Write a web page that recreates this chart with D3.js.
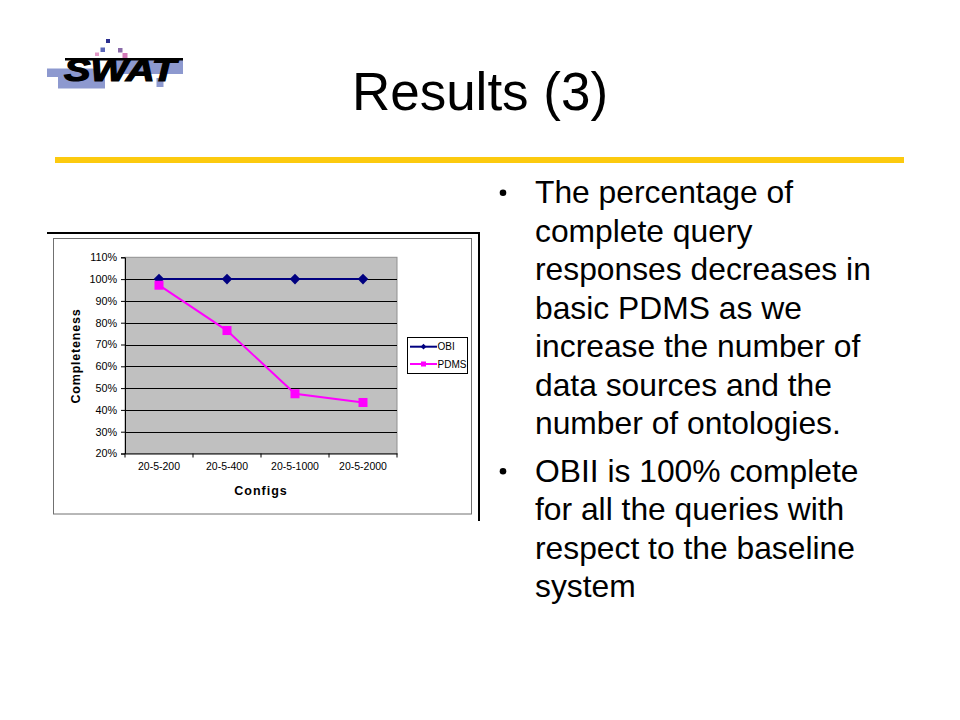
<!DOCTYPE html>
<html>
<head>
<meta charset="utf-8">
<script src="https://cdn.jsdelivr.net/npm/d3@7/dist/d3.min.js"></script>
<style>
  html, body { margin: 0; padding: 0; background: #fff; }
  svg { display: block; }
  text { font-family: "Liberation Sans", Arial, sans-serif; }
</style>
</head>
<body>
<svg id="slide" width="960" height="720"></svg>
<script>
// ---- data ----
const categories = ["20-5-200", "20-5-400", "20-5-1000", "20-5-2000"];
const obiValues  = [1.00, 1.00, 1.00, 1.00];
const pdmsValues = [0.972, 0.764, 0.474, 0.434];
const yTicks     = [0.2, 0.3, 0.4, 0.5, 0.6, 0.7, 0.8, 0.9, 1.0, 1.1];
const seriesNames = ["OBI", "PDMS"];
const titleText = "Results (3)";
const bullets = [
  ["The percentage of", "complete query", "responses decreases in", "basic PDMS as we",
   "increase the number of", "data sources and the", "number of ontologies."],
  ["OBII is 100% complete", "for all the queries with", "respect to the baseline", "system"]
];

const svg = d3.select("#slide");

// ---- logo ----
const logo = svg.append("g");
const logoRects = [
  [47, 68.5, 48, 8.5, "#8d99cf"], [58, 76.5, 47, 12, "#8d99cf"],
  [116, 59, 67, 15, "#8d99cf"], [156.5, 78, 7, 9, "#8d99cf"],
  [106, 39, 4, 4, "#2b2f8f"], [100.5, 47.5, 4.5, 4.5, "#5a66b8"],
  [95, 52.5, 4, 3.5, "#e49ac8"], [118, 48, 4.5, 4.5, "#8a6aa8"],
  [122.5, 53, 5, 5, "#d47ab8"]
];
logo.selectAll("rect.l").data(logoRects).join("rect")
  .attr("x", d => d[0]).attr("y", d => d[1]).attr("width", d => d[2]).attr("height", d => d[3])
  .attr("fill", d => d[4]);
logo.append("rect").attr("x", 65).attr("y", 58).attr("width", 118).attr("height", 2.5).attr("fill", "#000");
logo.append("text").attr("x", 64).attr("y", 80.5)
  .attr("font-size", 31).attr("font-weight", 900).attr("font-style", "italic")
  .attr("textLength", 112).attr("lengthAdjust", "spacingAndGlyphs")
  .attr("fill", "#000").attr("stroke", "#000").attr("stroke-width", 1.2).text("SWAT");

// ---- title ----
svg.append("text").attr("x", 480).attr("y", 110).attr("text-anchor", "middle")
  .attr("font-size", 53).attr("fill", "#000").text(titleText);

svg.append("rect").attr("x", 55).attr("y", 157).attr("width", 849).attr("height", 6).attr("fill", "#fcca0f");

// ---- bullets ----
const lineH = 38.5;
let baseY = 203.3;
bullets.forEach((para, pi) => {
  svg.append("circle").attr("cx", 503).attr("cy", baseY - 10.5).attr("r", 3.3).attr("fill", "#000");
  para.forEach((ln, li) => {
    svg.append("text").attr("x", 535).attr("y", baseY + li * lineH)
      .attr("font-size", 31.8).attr("fill", "#000").text(ln);
  });
  baseY += (para.length - 1) * lineH + 47.4;
});

// ---- chart frame ----
svg.append("rect").attr("x", 53.5).attr("y", 238.5).attr("width", 418).attr("height", 275.5)
  .attr("fill", "#fff").attr("stroke", "#707070").attr("stroke-width", 1);
svg.append("line").attr("x1", 47).attr("x2", 480).attr("y1", 233).attr("y2", 233)
  .attr("stroke", "#000").attr("stroke-width", 2);
svg.append("line").attr("x1", 479).attr("x2", 479).attr("y1", 232).attr("y2", 521)
  .attr("stroke", "#000").attr("stroke-width", 2);

// ---- scales ----
const plotL = 125, plotR = 397, plotT = 257.3, plotB = 453.5;
const x = d3.scaleBand().domain(categories).range([plotL, plotR]);
const y = d3.scaleLinear().domain([0.2, 1.1]).range([plotB, plotT]);

const chart = svg.append("g");
chart.append("rect").attr("x", plotL).attr("y", plotT).attr("width", plotR - plotL).attr("height", plotB - plotT)
  .attr("fill", "#c0c0c0").attr("stroke", "#909090").attr("stroke-width", 1);

// gridlines
chart.selectAll("line.grid").data(yTicks.filter(t => t > 0.2 && t < 1.1)).join("line")
  .attr("class", "grid")
  .attr("x1", plotL).attr("x2", plotR)
  .attr("y1", d => Math.round(y(d)) + 0.5).attr("y2", d => Math.round(y(d)) + 0.5)
  .attr("stroke", "#000").attr("stroke-width", 1.1);

// y axis
const yAxis = chart.append("g").attr("transform", `translate(${plotL},0)`)
  .call(d3.axisLeft(y).tickValues(yTicks).tickSize(4).tickPadding(4).tickFormat(d3.format(".0%")));
yAxis.selectAll("text").attr("font-size", 10.8).attr("font-family", "Liberation Sans, Arial, sans-serif").attr("fill", "#000");
yAxis.selectAll("line, path").attr("stroke", "#000");

// x axis
const xAxis = chart.append("g").attr("transform", `translate(0,${plotB})`)
  .call(d3.axisBottom(x).tickSize(0).tickPadding(9.5).tickSizeOuter(0));
xAxis.selectAll("text").attr("font-size", 10.5).attr("font-family", "Liberation Sans, Arial, sans-serif").attr("fill", "#000");
xAxis.select("path").attr("stroke", "#000");
const bounds = categories.map(c => x(c)).concat([x.range()[1]]);
chart.selectAll("line.xt").data(bounds).join("line").attr("class", "xt")
  .attr("x1", d => d).attr("x2", d => d).attr("y1", plotB).attr("y2", plotB + 4)
  .attr("stroke", "#000");

// axis titles
chart.append("text").attr("transform", "translate(80,356) rotate(-90)")
  .attr("text-anchor", "middle").attr("font-size", 12.5).attr("font-weight", "bold")
  .attr("letter-spacing", 0.8).text("Completeness");
chart.append("text").attr("x", 261).attr("y", 495).attr("text-anchor", "middle")
  .attr("font-size", 12.5).attr("font-weight", "bold").attr("letter-spacing", 1).text("Configs");

// series
const cx = c => x(c) + x.bandwidth() / 2;
const line = d3.line().x((d, i) => cx(categories[i])).y(d => y(d));
chart.append("path").attr("d", line(obiValues)).attr("fill", "none").attr("stroke", "#000080").attr("stroke-width", 2);
chart.selectAll("path.obi").data(obiValues).join("path").attr("class", "obi")
  .attr("d", d3.symbol(d3.symbolSquare, 56)())
  .attr("transform", (d, i) => `translate(${cx(categories[i])},${y(d)}) rotate(45)`)
  .attr("fill", "#000080");
chart.append("path").attr("d", line(pdmsValues)).attr("fill", "none").attr("stroke", "#ff00ff").attr("stroke-width", 2);
chart.selectAll("rect.pdms").data(pdmsValues).join("rect").attr("class", "pdms")
  .attr("x", (d, i) => cx(categories[i]) - 4.5).attr("y", d => y(d) - 4.5)
  .attr("width", 9).attr("height", 9).attr("fill", "#ff00ff");

// legend
const lg = chart.append("g");
lg.append("rect").attr("x", 407.5).attr("y", 337.5).attr("width", 60).attr("height", 36)
  .attr("fill", "#fff").attr("stroke", "#000").attr("stroke-width", 1);
const legColors = ["#000080", "#ff00ff"];
seriesNames.forEach((s, i) => {
  const ly = 346.7 + i * 17.3;
  lg.append("line").attr("x1", 410).attr("x2", 437).attr("y1", ly).attr("y2", ly)
    .attr("stroke", legColors[i]).attr("stroke-width", 2);
  if (i === 0) {
    lg.append("path").attr("d", d3.symbol(d3.symbolSquare, 16)()).attr("transform", `translate(423.5,${ly}) rotate(45)`).attr("fill", legColors[i]);
  } else {
    lg.append("rect").attr("x", 421).attr("y", ly - 2.5).attr("width", 5).attr("height", 5).attr("fill", legColors[i]);
  }
  lg.append("text").attr("x", 437.5).attr("y", ly + 3.6).attr("font-size", 10).attr("fill", "#000").text(s);
});
</script>
</body>
</html>
